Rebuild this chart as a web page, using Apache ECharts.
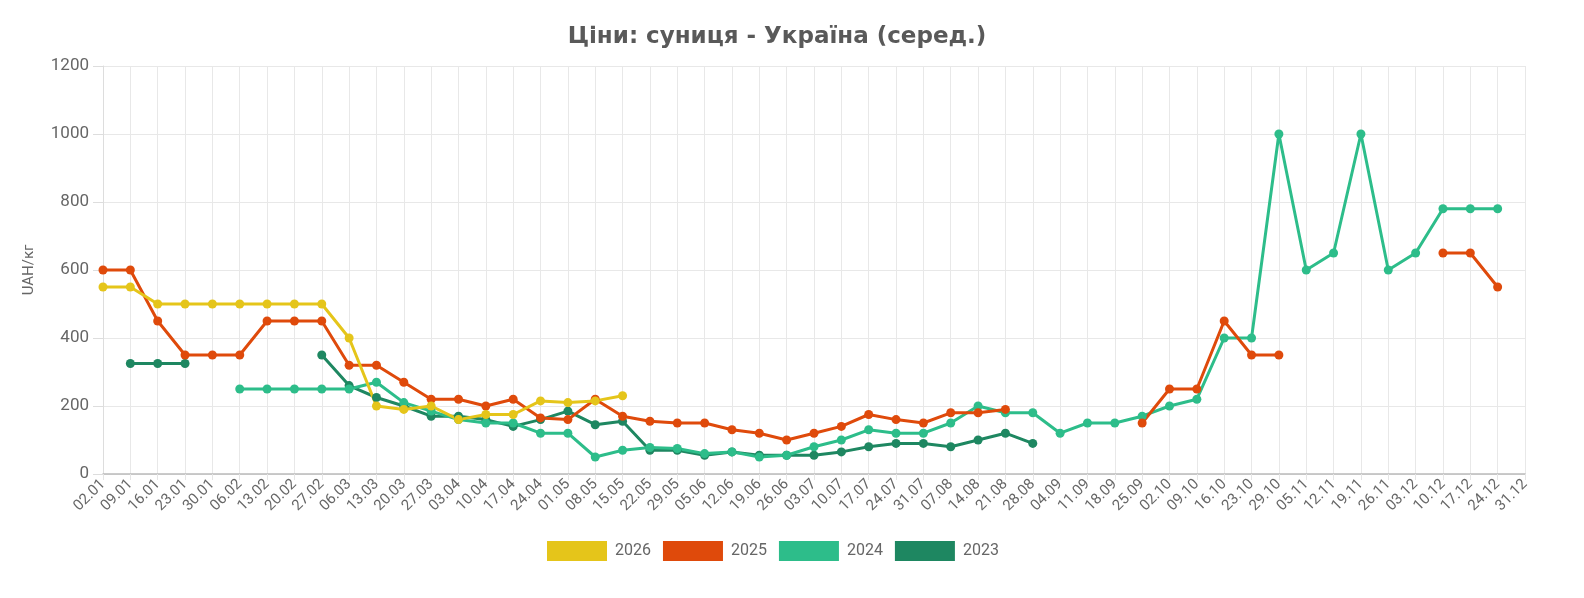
<!DOCTYPE html>
<html>
<head>
<meta charset="utf-8">
<script src="https://cdn.jsdelivr.net/npm/echarts@6/dist/echarts.min.js"></script>
<style>
  html, body { margin: 0; padding: 0; background: #fff; }
  #chart { width: 1584px; height: 598px; }
</style>
</head>
<body>
<div id="chart"></div>
<script>
const weeks = [
  '02.01', '09.01', '16.01', '23.01', '30.01', '06.02', '13.02', '20.02', '27.02',
  '06.03', '13.03', '20.03', '27.03', '03.04', '10.04', '17.04', '24.04', '01.05',
  '08.05', '15.05', '22.05', '29.05', '05.06', '12.06', '19.06', '26.06', '03.07',
  '10.07', '17.07', '24.07', '31.07', '07.08', '14.08', '21.08', '28.08', '04.09',
  '11.09', '18.09', '25.09', '02.10', '09.10', '16.10', '23.10', '29.10', '05.11',
  '12.11', '19.11', '26.11', '03.12', '10.12', '17.12', '24.12', '31.12'
];

const years = ['2026', '2025', '2024', '2023'];

const prices2026 = [
  550, 550, 500, 500, 500, 500, 500, 500, 500, 400, 200, 190, 200, 160, 175, 175, 215, 210,
  215, 230, null, null, null, null, null, null, null, null, null, null, null, null, null, null,
  null, null, null, null, null, null, null, null, null, null, null, null, null, null, null,
  null, null, null, null
];

const prices2025 = [
  600, 600, 450, 350, 350, 350, 450, 450, 450, 320, 320, 270, 220, 220, 200, 220, 165, 160,
  220, 170, 155, 150, 150, 130, 120, 100, 120, 140, 175, 160, 150, 180, 180, 190, null, null,
  null, null, 150, 250, 250, 450, 350, 350, null, null, null, null, null, 650, 650, 550, null
];

const prices2024 = [
  null, null, null, null, null, 250, 250, 250, 250, 250, 270, 210, 185, 160, 150, 150, 120, 120,
  50, 70, 78, 75, 60, 65, 50, 55, 80, 100, 130, 120, 120, 150, 200, 180, 180, 120,
  150, 150, 170, 200, 220, 400, 400, 1000, 600, 650, 1000, 600, 650, 780, 780, 780, null
];

const prices2023 = [
  null, 325, 325, 325, null, null, null, null, 350, 260, 225, 200, 170, 170, 160, 140, 160, 185,
  145, 155, 70, 70, 55, 65, 55, 55, 55, 65, 80, 90, 90, 80, 100, 120, 90, null,
  null, null, null, null, null, null, null, null, null, null, null, null, null, null, null, null, null
];

const colors = {
  '2026': '#e5c51a',
  '2025': '#df4a0b',
  '2024': '#2dbd8a',
  '2023': '#1e8761'
};

const seriesValues = {
  '2026': prices2026,
  '2025': prices2025,
  '2024': prices2024,
  '2023': prices2023
};

const chart = echarts.init(document.getElementById('chart'));

// older years drawn first so the newer lines sit on top
const series = years.slice().reverse().map(function (y) {
  return {
    name: y,
    type: 'line',
    data: seriesValues[y],
    symbol: 'circle',
    symbolSize: 9,
    lineStyle: { width: 3, color: colors[y] },
    itemStyle: { color: colors[y] },
    connectNulls: false
  };
});

chart.setOption({
  animation: false,
  textStyle: { fontFamily: 'Roboto, sans-serif' },
  title: {
    text: 'Ціни: суниця - Україна (серед.)',
    left: 772,
    top: 21,
    textAlign: 'center',
    textStyle: { fontSize: 23, fontWeight: 'bold', color: '#595959', fontFamily: '"DejaVu Sans", sans-serif' }
  },
  legend: {
    data: years,
    top: 536,
    left: 542,
    icon: 'rect',
    itemWidth: 60,
    itemHeight: 20,
    itemGap: 12,
    textStyle: { fontSize: 16, color: '#666', padding: [0, 0, 0, 3] }
  },
  grid: { left: 103, right: 59, top: 66, bottom: 124 },
  xAxis: {
    type: 'category',
    data: weeks,
    boundaryGap: false,
    axisLine: { lineStyle: { color: '#bbb', width: 1.5 } },
    axisTick: { show: true, length: 6, lineStyle: { color: '#e5e5e5' } },
    axisLabel: { rotate: 45, color: '#666', fontSize: 15, interval: 0, margin: 8 },
    splitLine: { show: true, lineStyle: { color: '#e8e8e8' } }
  },
  yAxis: {
    type: 'value',
    min: 0,
    max: 1200,
    interval: 200,
    name: 'UAH/кг',
    nameLocation: 'middle',
    nameGap: 66,
    nameTextStyle: { color: '#666', fontSize: 15 },
    axisLine: { show: true, lineStyle: { color: '#ddd' } },
    axisTick: { show: true, length: 10, lineStyle: { color: '#ddd' } },
    axisLabel: {
      color: '#666',
      fontSize: 17,
      margin: 14,
      formatter: function (v) { return String(v); }
    },
    splitLine: { lineStyle: { color: '#e8e8e8' } }
  },
  series: series
});
</script>
</body>
</html>
